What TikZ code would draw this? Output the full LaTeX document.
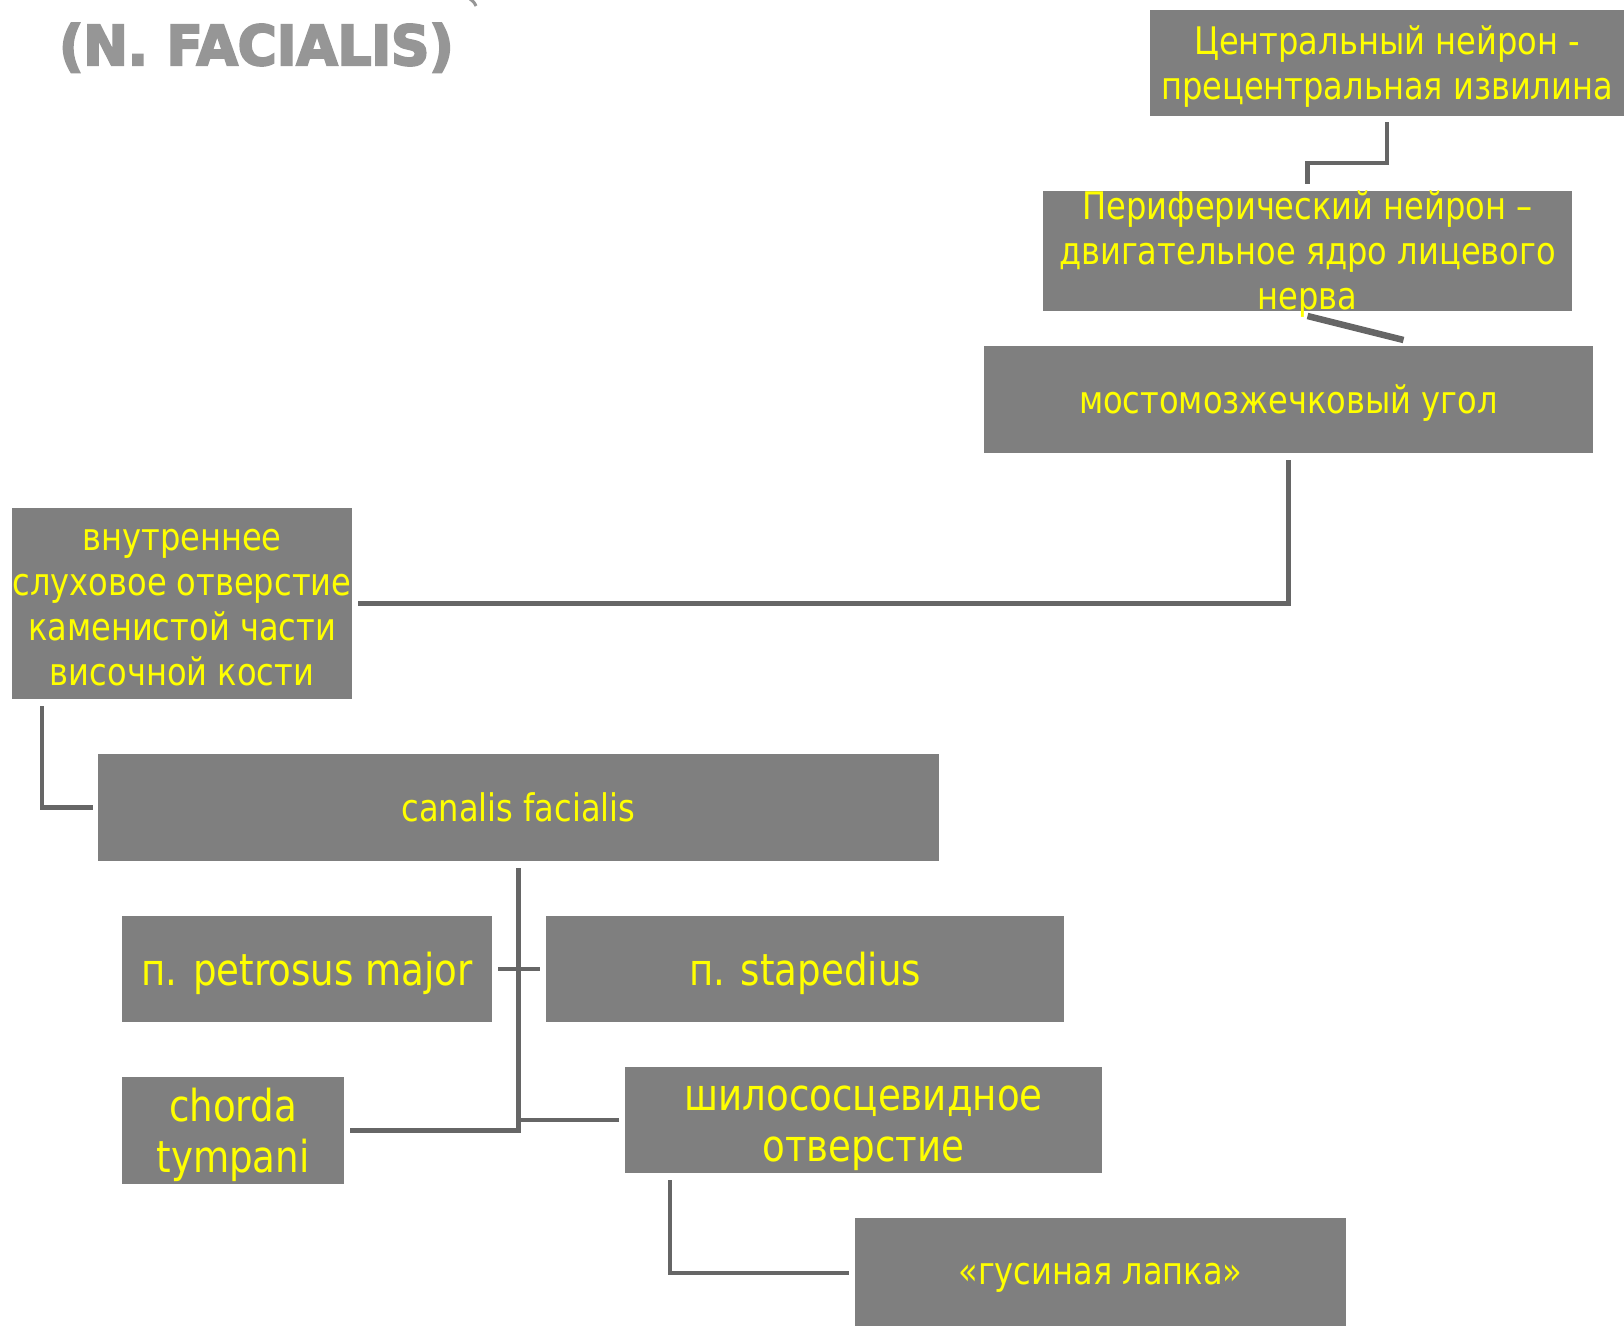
\documentclass[tikz,border=0pt]{standalone}
\usepackage{fontspec}
\setmainfont{DejaVu Sans}[FakeStretch=0.845]
\newfontfamily\titlefont{DejaVu Sans Bold}[FakeStretch=0.965,FakeBold=4]
\usetikzlibrary{calc}
\definecolor{boxgray}{RGB}{127,127,127}
\definecolor{linegray}{RGB}{102,102,102}
\definecolor{titlegray}{RGB}{150,150,150}
\definecolor{txtyellow}{RGB}{255,255,0}
\begin{document}
\begin{tikzpicture}[x=1pt,y=-1pt,
  boxnode/.style={fill=boxgray, draw=none, anchor=north west, inner sep=0pt, outer sep=0pt},
  txtA/.style={text=txtyellow, align=center, inner sep=0pt, yshift=-4pt, font=\fontsize{38}{45}\selectfont},
  txtB/.style={text=txtyellow, align=center, inner sep=0pt, yshift=-4pt, font=\fontsize{44}{51}\selectfont},
  conn/.style={draw=linegray, line width=4.5pt}]
\useasboundingbox[fill=white] (0,0) rectangle (1624,1325);

% title
\node[font=\titlefont\fontsize{55}{60}\selectfont, text=titlegray, anchor=base west, inner sep=0pt] (title) at (59,65) {(N. FACIALIS)};
\draw[titlegray, line width=3pt] (470,-1) .. controls (474,2) .. (476,6);

% boxes
\node[boxnode, minimum width=474pt, minimum height=106pt] (c1) at (1150,10) {};
\node[txtA] (c1t) at (c1.center) {Центральный нейрон -\\прецентральная извилина};

\node[boxnode, minimum width=529pt, minimum height=120pt] (p) at (1043,191) {};
\node[txtA, yshift=1pt] (pt) at (p.center) {Периферический нейрон –\\двигательное ядро лицевого\\нерва};

\node[boxnode, minimum width=609pt, minimum height=107pt] (m) at (984,346) {};
\node[txtA] (mt) at (m.center) {мостомозжечковый угол};

\node[boxnode, minimum width=340pt, minimum height=191pt] (v) at (12,508) {};
\node[txtA] (vt) at (v.center) {внутреннее\\слуховое отверстие\\каменистой части\\височной кости};

\node[boxnode, minimum width=841pt, minimum height=107pt] (cf) at (98,754) {};
\node[txtA, yshift=4pt] (cft) at (cf.center) {canalis facialis};

\node[boxnode, minimum width=370pt, minimum height=106pt] (pm) at (122,916) {};
\node[txtB] (pmt) at (pm.center) {п. petrosus major};

\node[boxnode, minimum width=518pt, minimum height=106pt] (st) at (546,916) {};
\node[txtB] (stt) at (st.center) {п. stapedius};

\node[boxnode, minimum width=222pt, minimum height=107pt] (ch) at (122,1077) {};
\node[txtB] (cht) at (ch.center) {chorda\\tympani};

\node[boxnode, minimum width=477pt, minimum height=106pt] (sh) at (625,1067) {};
\node[txtB, yshift=-4pt] (sht) at (sh.center) {шилососцевидное\\отверстие};

\node[boxnode, minimum width=491pt, minimum height=110pt] (g) at (855,1218) {};
\node[txtA, yshift=-1pt] (gt) at ($(g.north)+(0,55)$) {«гусиная лапка»};

% connectors
\draw[conn] ($(c1.south)+(0,6)$) -- ++(0,41) -| ($(p.north)+(0,-7)$);
\draw[conn, line width=6.5pt] ($(p.south)+(0,5)$) -- ($(m.north)+(115,-6)$);
\draw[conn] ($(m.south)+(0,7)$) |- ($(v.east)+(6,0)$);
\draw[conn] ($(v.south west)+(30,7)$) |- ($(cf.west)+(-5,0)$);
\draw[conn] ($(ch.east)+(6,0)$) -| ($(cf.south)+(0,7)$);
\draw[conn] ($(sh.west)+(-6,0)$) -- (sh.west -| cf.south);
\draw[conn] ($(pm.east)+(6,0)$) -- ($(st.west)+(-6,0)$);
\draw[conn] ($(sh.south west)+(45,7)$) |- ($(g.west)+(-6,0)$);
\end{tikzpicture}
\end{document}
